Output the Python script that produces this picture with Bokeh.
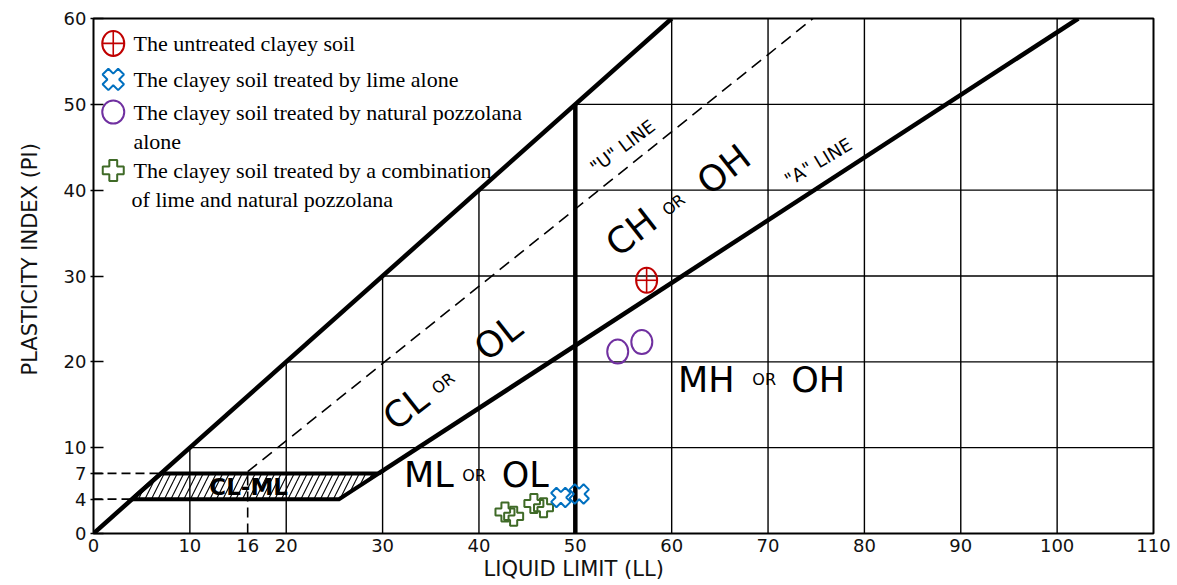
import math
from bokeh.plotting import figure
from bokeh.models import Range1d, FixedTicker, ColumnDataSource, Title
from bokeh.core.properties import value
from bokeh.embed import file_html
from bokeh.resources import INLINE

# ---- measured soil states: liquid limit (LL, %) and plasticity index (PI, %) ----
untreated_ll = [57.4]
untreated_pi = [29.5]
lime_ll = [48.5, 50.4]
lime_pi = [4.2, 4.6]
pozz_ll = [54.4, 56.9]
pozz_pi = [21.2, 22.3]
combo_ll = [42.7, 43.6, 45.7, 46.7]
combo_pi = [2.5, 2.0, 3.5, 3.0]

# ---- axes ----
x_ticks = [0, 10, 16, 20, 30, 40, 50, 60, 70, 80, 90, 100, 110]
y_ticks = [0, 4, 7, 10, 20, 30, 40, 50, 60]
grid_ll = [10, 20, 30, 40, 50, 60, 70, 80, 90, 100]
grid_pi = [10, 20, 30, 40, 50]
LL_MAX, PI_MAX = 110, 60

# Casagrande chart boundaries
A_SLOPE, A_ZERO = 0.73, 20.0     # "A" line: PI = 0.73 (LL - 20)
U_SLOPE, U_ZERO = 0.90, 8.0      # "U" line: PI = 0.9 (LL - 8)
CLML_LOW, CLML_HIGH = 4, 7       # CL-ML band
U_START_LL = 16
LL_SPLIT = 50

FONT = "DejaVu Sans"
SERIF = "Liberation Serif"

RED = "#c00000"
BLUE = "#0070c0"
PURPLE = "#7030a0"
GREEN = "#3f6a27"

p = figure(width=1177, height=585,
           x_range=Range1d(0, LL_MAX), y_range=Range1d(0, PI_MAX),
           output_backend="svg", toolbar_location=None,
           min_border_left=93, min_border_right=24,
           min_border_top=18, min_border_bottom=52,
           background_fill_color="white", border_fill_color="white")
p.grid.visible = False
p.outline_line_color = "black"
p.outline_line_width = 2

# axis ticks and labels
p.xaxis.ticker = FixedTicker(ticks=x_ticks)
p.yaxis.ticker = FixedTicker(ticks=y_ticks)
for ax in (p.xaxis, p.yaxis):
    ax.axis_line_color = None
    ax.minor_tick_line_color = None
    ax.major_label_text_font = FONT
    ax.major_label_text_font_size = "18px"
    ax.major_label_text_color = "#111111"
    ax.major_tick_line_color = "black"
    ax.major_tick_line_width = 1.5
p.xaxis.major_tick_in = 0
p.xaxis.major_tick_out = 0
p.xaxis.major_label_standoff = 5
p.yaxis.major_tick_in = 10
p.yaxis.major_tick_out = 3
p.yaxis.major_label_standoff = 4

# axis titles, shifted along their sides
p.add_layout(Title(text="LIQUID LIMIT (LL)", align="left", offset=390,
                   text_font=FONT, text_font_size="21px", text_font_style="normal",
                   text_color="#111111", standoff=0), "below")
p.add_layout(Title(text="PLASTICITY INDEX (PI)", align="left", offset=158,
                   vertical_align="top",
                   text_font=FONT, text_font_size="21px", text_font_style="normal",
                   text_color="#111111", standoff=34), "left")

# ---- grid: only in the region below the PI = LL limit ----
gx0 = grid_ll
gy0 = [0] * len(grid_ll)
gy1 = [min(v, PI_MAX) for v in grid_ll]
p.segment(x0=gx0, y0=gy0, x1=gx0, y1=gy1, line_color="black", line_width=1.4)
p.segment(x0=grid_pi, y0=grid_pi, x1=[LL_MAX] * len(grid_pi), y1=grid_pi,
          line_color="black", line_width=1.4)

# ---- CL-ML hatched band ----
ll_low_a = A_ZERO + CLML_LOW / A_SLOPE
ll_high_a = A_ZERO + CLML_HIGH / A_SLOPE
p.patch([CLML_LOW, ll_low_a, ll_high_a, CLML_HIGH],
        [CLML_LOW, CLML_LOW, CLML_HIGH, CLML_HIGH],
        fill_alpha=0, hatch_pattern="/", hatch_color="black",
        hatch_scale=13, hatch_weight=1.1, hatch_alpha=1,
        line_color="black", line_width=4, line_join="miter")

# ---- heavy boundary lines ----
p.line([0, PI_MAX], [0, PI_MAX], line_color="black", line_width=4.5)
a_ll = [ll_high_a, A_ZERO + PI_MAX / A_SLOPE]
p.line(a_ll, [A_SLOPE * (v - A_ZERO) for v in a_ll], line_color="black", line_width=4.5)
p.line([LL_SPLIT, LL_SPLIT], [0, LL_SPLIT], line_color="black", line_width=4.5)

# ---- dashed guides ----
u_ll = [U_START_LL, U_ZERO + PI_MAX / U_SLOPE]
p.line(u_ll, [U_SLOPE * (v - U_ZERO) for v in u_ll],
       line_color="black", line_width=1.6, line_dash="12 7")
p.line([U_START_LL, U_START_LL], [0, CLML_HIGH], line_color="black",
       line_width=1.6, line_dash="10 6")
p.segment(x0=[0, 0], y0=[CLML_LOW, CLML_HIGH], x1=[CLML_LOW, CLML_HIGH],
          y1=[CLML_LOW, CLML_HIGH], line_color="black", line_width=1.6, line_dash="9 5")

# ---- zone names ----
deg = math.pi / 180
zones = ColumnDataSource(dict(
    x=[32.4, 36.3, 42.0, 55.8, 60.2, 65.4, 63.6, 69.6, 75.2, 34.8, 39.5, 44.8],
    y=[14.6, 17.5, 22.8, 35.1, 38.3, 42.4, 17.9, 17.9, 17.9, 6.8, 6.8, 6.8],
    t=["CL", "OR", "OL", "CH", "OR", "OH", "MH", "OR", "OH", "ML", "OR", "OL"],
    a=[38 * deg] * 6 + [0.0] * 6,
    s=["36px", "16px", "36px", "36px", "16px", "36px",
       "35px", "16px", "35px", "35px", "16px", "35px"],
))
p.text(x="x", y="y", text="t", angle="a", source=zones, text_font=value(FONT),
       text_font_size="s", text_align="center", text_baseline="middle",
       text_color="black")
p.text(x=[54.9], y=[45.1], text=['"U" LINE'], angle=37 * deg, text_font=value(FONT),
       text_font_size="18px", text_align="center", text_baseline="middle")
p.text(x=[75.2], y=[43.3], text=['"A" LINE'], angle=31 * deg, text_font=value(FONT),
       text_font_size="18px", text_align="center", text_baseline="middle")
p.text(x=[16.1], y=[5.4], text=["CL-ML"], text_font=value(FONT), text_font_size="23px",
       text_font_style="bold", text_align="center", text_baseline="middle")

# ---- measured points ----
p.ellipse(x=untreated_ll, y=untreated_pi, width=21, height=25,
          width_units="screen", height_units="screen",
          fill_color=None, line_color=RED, line_width=2)
p.scatter(x=untreated_ll, y=untreated_pi, marker="dash", size=21,
          line_color=RED, line_width=1.6)
p.scatter(x=untreated_ll, y=untreated_pi, marker="dash", angle=math.pi / 2, size=25,
          line_color=RED, line_width=1.6)
p.ellipse(x=pozz_ll, y=pozz_pi, width=21, height=24,
          width_units="screen", height_units="screen",
          fill_color=None, line_color=PURPLE, line_width=2)
p.scatter(x=combo_ll, y=combo_pi, marker="plus", size=19,
          fill_color=None, line_color=GREEN, line_width=2)
p.scatter(x=lime_ll, y=lime_pi, marker="plus", angle=math.pi / 4, size=20,
          fill_color=None, line_color=BLUE, line_width=2)

# ---- key ----
key_x = 2.05
key_y = [57.1, 52.9, 49.1, 42.3]
p.ellipse(x=[key_x], y=[key_y[0]], width=22, height=25,
          width_units="screen", height_units="screen",
          fill_color=None, line_color=RED, line_width=2)
p.scatter(x=[key_x], y=[key_y[0]], marker="dash", size=22, line_color=RED, line_width=1.6)
p.scatter(x=[key_x], y=[key_y[0]], marker="dash", angle=math.pi / 2, size=25,
          line_color=RED, line_width=1.6)
p.scatter(x=[key_x], y=[key_y[1]], marker="plus", angle=math.pi / 4, size=22,
          fill_color=None, line_color=BLUE, line_width=2)
p.ellipse(x=[key_x], y=[key_y[2]], width=22, height=23,
          width_units="screen", height_units="screen",
          fill_color=None, line_color=PURPLE, line_width=2)
p.scatter(x=[key_x], y=[key_y[3]], marker="plus", size=21,
          fill_color=None, line_color=GREEN, line_width=2)

key_text = ColumnDataSource(dict(
    x=[4.15, 4.15, 4.15, 4.15, 4.15, 3.95],
    y=[57.1, 52.9, 49.1, 45.7, 42.3, 38.9],
    t=["The untreated clayey soil",
       "The clayey soil treated by lime alone",
       "The clayey soil treated by natural pozzolana",
       "alone",
       "The clayey soil treated by a combination",
       "of lime and natural pozzolana"],
))
p.text(x="x", y="y", text="t", source=key_text, text_font=value(SERIF),
       text_font_size="22px", text_align="left", text_baseline="middle",
       text_color="black")

open("out.html", "w").write(file_html(p, INLINE))
